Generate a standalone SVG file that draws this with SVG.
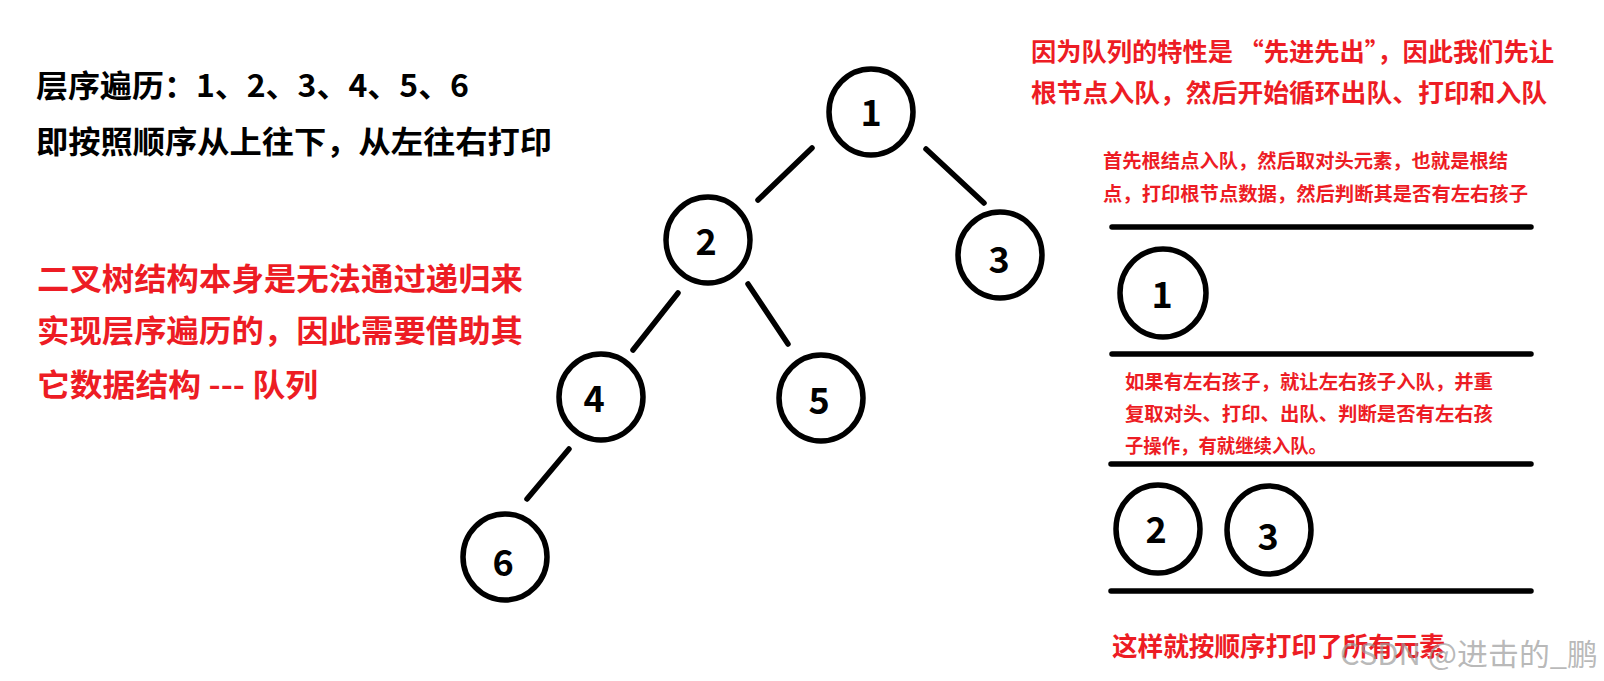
<svg xmlns="http://www.w3.org/2000/svg" width="1604" height="681" viewBox="0 0 1604 681">
<style>
.t{font-family:"Noto Sans CJK SC","Microsoft YaHei",sans-serif;font-weight:bold}
.blk{fill:#000}
.red{fill:#ed1c24}
.node ellipse{fill:#fff;stroke:#000;stroke-width:5.5}
.num{font-family:"Noto Sans CJK SC","Noto Sans",sans-serif;font-weight:bold;font-size:36px;fill:#000;text-anchor:middle}
.edge{stroke:#000;stroke-width:5.5;stroke-linecap:round}
.bar{stroke:#000;stroke-width:5.5;stroke-linecap:round}
.wm{font-family:"Noto Sans CJK SC",sans-serif;font-size:30px;fill:#9a9a9a;fill-opacity:0.7}
</style>
<rect width="1604" height="681" fill="#fff"/>

<g id="left-text">
<text class="t blk" x="36" y="97" font-size="31" textLength="433" lengthAdjust="spacingAndGlyphs">层序遍历：1、2、3、4、5、6</text>
<text class="t blk" x="36" y="153" font-size="31" textLength="516" lengthAdjust="spacingAndGlyphs">即按照顺序从上往下，从左往右打印</text>
<text class="t red" x="37" y="290" font-size="31" textLength="486" lengthAdjust="spacingAndGlyphs">二叉树结构本身是无法通过递归来</text>
<text class="t red" x="37" y="342" font-size="31" textLength="486" lengthAdjust="spacingAndGlyphs">实现层序遍历的，因此需要借助其</text>
<text class="t red" x="37" y="396" font-size="31" textLength="281" lengthAdjust="spacingAndGlyphs">它数据结构 --- 队列</text>
</g>

<g id="connectors">
<line class="edge" x1="812" y1="148" x2="758" y2="200"/>
<line class="edge" x1="926" y1="149" x2="984" y2="203"/>
<line class="edge" x1="678" y1="293" x2="633" y2="350"/>
<line class="edge" x1="748" y1="284" x2="788" y2="344"/>
<line class="edge" x1="569" y1="449" x2="527" y2="499"/>
</g>

<g id="node-1" class="node"><ellipse cx="871" cy="112" rx="42" ry="43"/><text class="num" x="871" y="126">1</text></g>
<g id="node-2" class="node"><ellipse cx="708" cy="240" rx="42" ry="43"/><text class="num" x="706" y="255">2</text></g>
<g id="node-3" class="node"><ellipse cx="1000" cy="255" rx="42" ry="43"/><text class="num" x="999" y="273">3</text></g>
<g id="node-4" class="node"><ellipse cx="601" cy="397" rx="42" ry="43"/><text class="num" x="594" y="412">4</text></g>
<g id="node-5" class="node"><ellipse cx="821" cy="398" rx="42" ry="43"/><text class="num" x="819" y="414">5</text></g>
<g id="node-6" class="node"><ellipse cx="505" cy="557" rx="42" ry="43"/><text class="num" x="503" y="576">6</text></g>

<g id="right-text">
<text class="t red" x="1031" y="61" font-size="25" textLength="523" lengthAdjust="spacingAndGlyphs">因为队列的特性是 “先进先出”，因此我们先让</text>
<text class="t red" x="1031" y="102" font-size="25" textLength="516" lengthAdjust="spacingAndGlyphs">根节点入队，然后开始循环出队、打印和入队</text>
<text class="t red" x="1103" y="168" font-size="19" textLength="405" lengthAdjust="spacingAndGlyphs">首先根结点入队，然后取对头元素，也就是根结</text>
<text class="t red" x="1103" y="201" font-size="19" textLength="425" lengthAdjust="spacingAndGlyphs">点，打印根节点数据，然后判断其是否有左右孩子</text>
<text class="t red" x="1125" y="389" font-size="19" textLength="368" lengthAdjust="spacingAndGlyphs">如果有左右孩子，就让左右孩子入队，并重</text>
<text class="t red" x="1125" y="421" font-size="19" textLength="368" lengthAdjust="spacingAndGlyphs">复取对头、打印、出队、判断是否有左右孩</text>
<text class="t red" x="1125" y="453" font-size="19" textLength="202" lengthAdjust="spacingAndGlyphs">子操作，有就继续入队。</text>
<text class="t red" x="1112" y="656" font-size="26" textLength="333" lengthAdjust="spacingAndGlyphs">这样就按顺序打印了所有元素</text>
</g>

<g id="queue-bars">
<line class="bar" x1="1112" y1="227" x2="1531" y2="227"/>
<line class="bar" x1="1112" y1="354" x2="1531" y2="354"/>
<line class="bar" x1="1111" y1="464" x2="1531" y2="464"/>
<line class="bar" x1="1111" y1="591" x2="1531" y2="591"/>
</g>

<g id="queue-node-1" class="node"><ellipse cx="1163" cy="293" rx="43" ry="44"/><text class="num" x="1162" y="308">1</text></g>
<g id="queue-node-2" class="node"><ellipse cx="1158" cy="529" rx="42" ry="44"/><text class="num" x="1156" y="543">2</text></g>
<g id="queue-node-3" class="node"><ellipse cx="1269" cy="530" rx="42" ry="44"/><text class="num" x="1268" y="550">3</text></g>

<text class="wm" x="1340" y="665" textLength="258" lengthAdjust="spacingAndGlyphs">CSDN @进击的_鹏</text>
</svg>
